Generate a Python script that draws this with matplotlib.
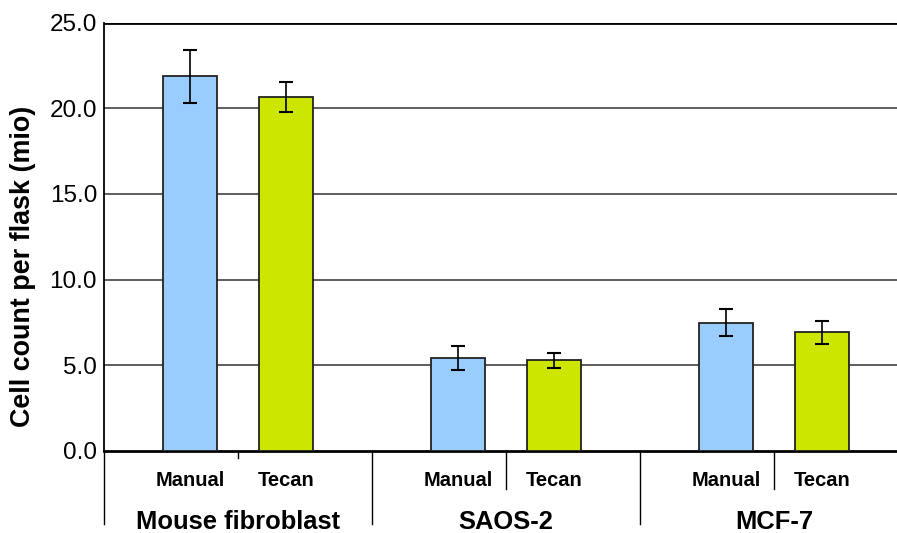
import numpy as np
import matplotlib.pyplot as plt
import matplotlib.transforms as mtransforms

plt.rcParams['font.family'] = ['Liberation Sans', 'DejaVu Sans']

groups = ['Mouse fibroblast', 'SAOS-2', 'MCF-7']
methods = ['Manual', 'Tecan']
manual = [21.87, 5.43, 7.48]
manual_err_hi = [23.42, 6.13, 8.28]
manual_err_lo = [20.33, 4.71, 6.68]
tecan = [20.66, 5.28, 6.93]
tecan_err_hi = [21.54, 5.69, 7.58]
tecan_err_lo = [19.78, 4.85, 6.21]
yticks = [0, 5, 10, 15, 20, 25]

fig = plt.figure(figsize=(8.97, 5.33), dpi=100)
ax = fig.add_axes([0.116, 0.1544, 0.884, 0.803])

centers = np.arange(len(groups)) + 0.5
off = 0.18
w = 0.2

man = np.array(manual)
tec = np.array(tecan)
man_err = [man - np.array(manual_err_lo), np.array(manual_err_hi) - man]
tec_err = [tec - np.array(tecan_err_lo), np.array(tecan_err_hi) - tec]

ax.bar(centers - off, man, w, color='#99ccff', edgecolor='#222222', linewidth=1.3, zorder=3,
       yerr=man_err, error_kw=dict(ecolor='black', elinewidth=1.2, capsize=5, capthick=1.5))
ax.bar(centers + off, tec, w, color='#cce600', edgecolor='#222222', linewidth=1.3, zorder=3,
       yerr=tec_err, error_kw=dict(ecolor='black', elinewidth=1.2, capsize=5, capthick=1.5))

ax.set_xlim(0, 0.884 * 8.97 * 100 / 268)
ax.set_ylim(0, 25)
ax.set_yticks(yticks)
ax.set_yticklabels(['%.1f' % v for v in yticks], fontsize=17.5)
ax.tick_params(axis='y', length=0, pad=5)
ax.set_xticks([])

for v in yticks[1:-1]:
    ax.axhline(v, color='#333333', linewidth=1.1, zorder=1)
ax.axhline(25, color='black', linewidth=2, zorder=1)

for s in ['top', 'right']:
    ax.spines[s].set_visible(False)
ax.spines['left'].set_linewidth(1.3)
ax.spines['bottom'].set_linewidth(2)

ax.set_ylabel('Cell count per flask (mio)', fontsize=19.4, fontweight='bold')
ax.yaxis.set_label_coords(-0.086, 0.43)

trans = mtransforms.blended_transform_factory(ax.transData, fig.transFigure)
y0 = 82 / 533
# group separators and left axis extension
for b in [0, 1, 2]:
    ax.plot([b, b], [y0, 9 / 533], color='black', linewidth=1, transform=trans, clip_on=False)
# manual|tecan separators
for i, c in enumerate(centers):
    bottom = 75 / 533 if i == 0 else 44 / 533
    ax.plot([c, c], [y0, bottom], color='black', linewidth=1, transform=trans, clip_on=False)

for i, c in enumerate(centers):
    ax.text(c - off, 52 / 533, methods[0], transform=trans, ha='center', va='center',
            fontsize=14.5, fontweight='bold')
    ax.text(c + off, 52 / 533, methods[1], transform=trans, ha='center', va='center',
            fontsize=14.5, fontweight='bold')
    ax.text(c, 11 / 533, groups[i], transform=trans, ha='center', va='center',
            fontsize=18.4, fontweight='bold')

fig.savefig('out.png', dpi=100)
